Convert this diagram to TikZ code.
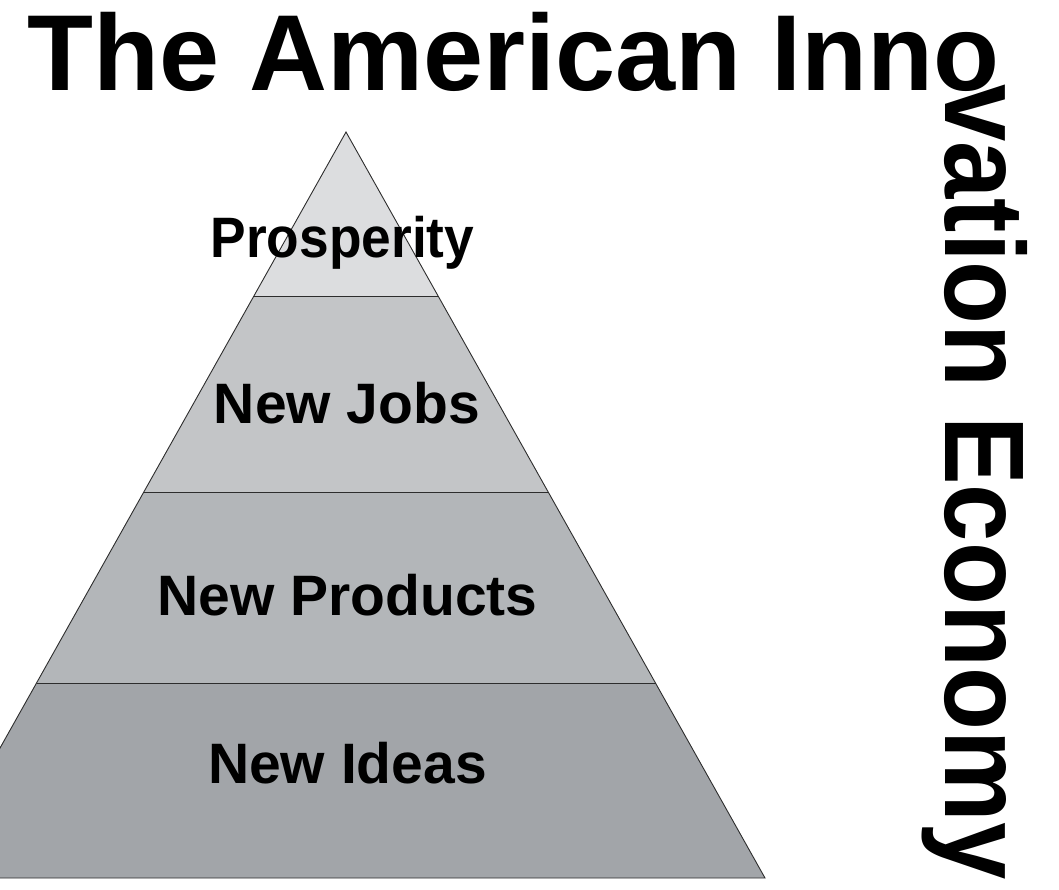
\documentclass[tikz,border=0pt]{standalone}
\usepackage{fontspec}
\setmainfont{Liberation Sans}
\definecolor{bandA}{RGB}{220,221,223}
\definecolor{bandB}{RGB}{195,197,199}
\definecolor{bandC}{RGB}{179,182,185}
\definecolor{bandD}{RGB}{162,165,169}
\definecolor{edge}{RGB}{45,45,45}
\tikzset{
  band/.style={draw=edge, line width=0.9pt, line join=miter},
  lbl/.style={font=\fontsize{57}{60}\selectfont\bfseries, inner sep=0pt, anchor=base},
  ttl/.style={font=\fontsize{108}{110}\selectfont\bfseries, inner sep=0pt}
}
\begin{document}
\begin{tikzpicture}[x=1pt,y=-1pt]
\useasboundingbox (0,0) rectangle (1059,889);
\begin{scope}
\clip (0,0) rectangle (1059,889);
% corner coordinates
\coordinate (apex) at (346,132);
\coordinate (l1) at (253.9,296); \coordinate (r1) at (438.1,296);
\coordinate (l2) at (143.8,492); \coordinate (r2) at (548.2,492);
\coordinate (l3) at (36.5,683);  \coordinate (r3) at (655.5,683);
\coordinate (l4) at (-73,878);   \coordinate (r4) at (765,878);
\fill[bandA] (apex) -- (r1) -- (l1) -- cycle;
\fill[bandB] (l1) -- (r1) -- (r2) -- (l2) -- cycle;
\fill[bandC] (l2) -- (r2) -- (r3) -- (l3) -- cycle;
\fill[bandD] (l3) -- (r3) -- (r4) -- (l4) -- cycle;
\draw[band] (l4) -- (apex) -- (r4) -- cycle;
\draw[band] (l1) -- (r1);
\draw[band] (l2) -- (r2);
\draw[band] (l3) -- (r3);
\end{scope}
\node[lbl] (prosp) at (342.5,257) {\scalebox{0.935}[1]{Prosperity}};
\node[lbl] (jobs) at (347,423) {New Jobs};
\node[lbl] (prod) at (347.5,615) {New Products};
\node[lbl] (ideas) at (347.5,783) {New Ideas};
\node[ttl, anchor=base west] (title) at (27,90) {The American Inno};
\node[font=\fontsize{103}{105}\selectfont\bfseries, inner sep=0pt, rotate=-90, anchor=base west] (title2) at (945,84) {\scalebox{1}[1.1]{vation Economy}};
\end{tikzpicture}
\end{document}
